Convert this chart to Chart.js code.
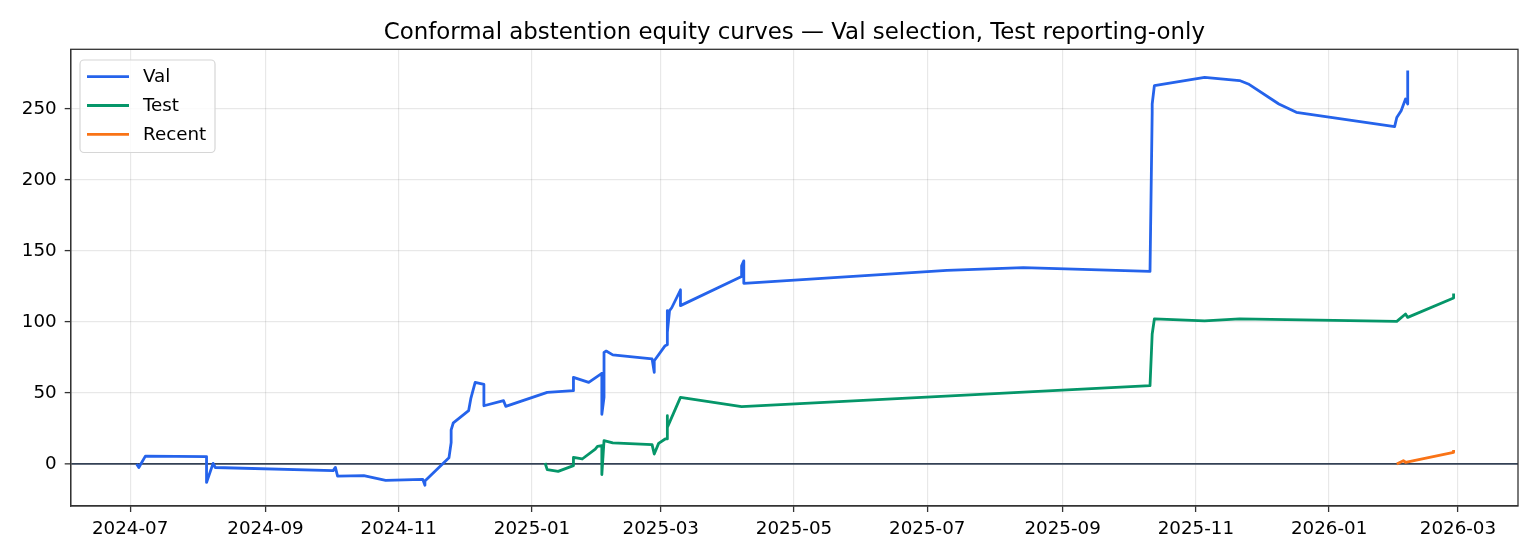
<!DOCTYPE html>
<html>
<head>
<meta charset="utf-8">
<script src="https://cdn.jsdelivr.net/npm/chart.js@4.4.1/dist/chart.umd.min.js"></script>
<style>
  html, body { margin: 0; padding: 0; background: #fff; }
  #wrap { width: 1540px; height: 560px; }
</style>
</head>
<body>
<div id="wrap"><canvas id="equityChart" width="1540" height="560"></canvas></div>
<script>
// values
const valDates = ['2024-07-04','2024-07-05','2024-07-08','2024-08-05','2024-08-05','2024-08-08','2024-08-09',
    '2024-10-02','2024-10-03','2024-10-04','2024-10-16','2024-10-26','2024-11-12','2024-11-13','2024-11-13',
    '2024-11-24','2024-11-25','2024-11-25','2024-11-26','2024-12-03','2024-12-04','2024-12-06','2024-12-10','2024-12-10',
    '2024-12-19','2024-12-20','2025-01-08','2025-01-20','2025-01-20','2025-01-27','2025-02-02','2025-02-02','2025-02-03',
    '2025-02-03','2025-02-04','2025-02-07','2025-02-25','2025-02-26','2025-02-26','2025-03-03','2025-03-04','2025-03-04',
    '2025-03-04','2025-03-05','2025-03-06','2025-03-10','2025-03-10','2025-04-07','2025-04-07','2025-04-08','2025-04-08',
    '2025-07-10','2025-08-14','2025-10-11','2025-10-12','2025-10-12','2025-10-13','2025-11-05','2025-11-21','2025-11-25',
    '2025-12-09','2025-12-17','2026-01-31','2026-02-01','2026-02-03','2026-02-05','2026-02-06','2026-02-06'];
const valValues = [0, -2.5, 5.5, 5.2, -13, 0.4, -2.5,
    -4.7, -2.4, -8.5, -8.2, -11.5, -10.8, -15, -12,
    4.3, 15, 24, 29, 37.5, 46, 57.5, 56, 41,
    44.6, 40.6, 50.4, 51.6, 61, 57.5, 63.8, 35, 47,
    78.6, 79.5, 76.8, 74, 64.5, 72.7, 83.3, 84, 108,
    92.7, 108, 110, 122.5, 111.5, 132, 139.6, 143, 127.2,
    136.3, 138.2, 135.6, 247.6, 253.5, 266.4, 272.3, 270, 267.6,
    253.5, 247.6, 237.5, 244, 248.8, 257, 253.5, 277];

const testDates = ['2025-01-07','2025-01-08','2025-01-13','2025-01-20','2025-01-20','2025-01-24','2025-01-30',
    '2025-01-31','2025-02-02','2025-02-02','2025-02-03','2025-02-07','2025-02-25','2025-02-26','2025-02-28',
    '2025-03-03','2025-03-04','2025-03-04','2025-03-04','2025-03-10','2025-04-07','2025-10-11','2025-10-12',
    '2025-10-13','2025-11-05','2025-11-21','2026-02-01','2026-02-05','2026-02-06','2026-02-27','2026-02-27'];
const testValues = [0.7, -4, -5.2, -1.2, 4.6, 3.5, 10.5,
    12.4, 12.9, -7.5, 16.4, 14.8, 13.6, 7, 14.5,
    17.6, 17.6, 34, 25.8, 46.9, 40.4, 55.1, 91.5,
    102.1, 100.8, 102.1, 100.4, 105.6, 103.2, 116.9, 120.1];

const recentDates = ['2026-02-01','2026-02-04','2026-02-05','2026-02-27','2026-02-27'];
const recentValues = [0, 2.3, 1.2, 8.2, 9.9];

const xTickLabels = ['2024-07','2024-09','2024-11','2025-01','2025-03','2025-05',
    '2025-07','2025-09','2025-11','2026-01','2026-03'];
const yTickValues = [0, 50, 100, 150, 200, 250];

const seriesNames = ['Val', 'Test', 'Recent'];
const seriesColors = ['#2563eb', '#059669', '#f97316'];

const FONT = 'DejaVu Sans';
const TITLE = 'Conformal abstention equity curves \u2014 Val selection, Test reporting-only';
const origin = Date.parse('2024-07-01');

function dayNum(d) {
    return (Date.parse(d) - origin) / 864e5;
}

function toPoints(dates, values) {
    return dates.map((d, i) => ({x: dayNum(d), y: values[i]}));
}

const xTicks = xTickLabels.map(l => dayNum(l + '-01'));

const framePlugin = {
    id: 'frame',
    afterDraw(chart) {
        const ctx = chart.ctx;
        const a = chart.chartArea;
        ctx.save();
        // axes box
        ctx.strokeStyle = '#333';
        ctx.lineWidth = 1.3;
        ctx.strokeRect(a.left, a.top, a.right - a.left, a.bottom - a.top);

        // title
        ctx.fillStyle = '#000';
        ctx.font = '22.9px "' + FONT + '"';
        ctx.textAlign = 'center';
        ctx.textBaseline = 'alphabetic';
        ctx.fillText(TITLE, (a.left + a.right) / 2, 39.3);

        // legend box
        const bx = 80, by = 60, bw = 135, bh = 92.5, r = 4;
        ctx.beginPath();
        ctx.moveTo(bx + r, by);
        ctx.arcTo(bx + bw, by, bx + bw, by + bh, r);
        ctx.arcTo(bx + bw, by + bh, bx, by + bh, r);
        ctx.arcTo(bx, by + bh, bx, by, r);
        ctx.arcTo(bx, by, bx + bw, by, r);
        ctx.closePath();
        ctx.fillStyle = 'rgba(255,255,255,0.8)';
        ctx.fill();
        ctx.strokeStyle = '#d6d6d6';
        ctx.lineWidth = 1.2;
        ctx.stroke();

        ctx.font = '18.3px "' + FONT + '"';
        ctx.textAlign = 'left';
        ctx.textBaseline = 'middle';
        seriesNames.forEach((name, i) => {
            const y = 76.7 + i * 28.8;
            ctx.strokeStyle = seriesColors[i];
            ctx.lineWidth = 2.8;
            ctx.beginPath();
            ctx.moveTo(87, y);
            ctx.lineTo(129, y);
            ctx.stroke();
            ctx.fillStyle = '#000';
            ctx.fillText(name, 143, y + 1);
        });
        ctx.restore();
    }
};

const allDates = [valDates, testDates, recentDates];
const allValues = [valValues, testValues, recentValues];

new Chart(document.getElementById('equityChart'), {
    type: 'line',
    data: {
        datasets: seriesNames.map((name, i) => ({
            label: name,
            data: toPoints(allDates[i], allValues[i]),
            borderColor: seriesColors[i],
            backgroundColor: seriesColors[i],
            borderWidth: 2.8,
            borderJoinStyle: 'round',
            pointRadius: 0,
            tension: 0,
            fill: false,
            order: seriesNames.length - i
        }))
    },
    options: {
        responsive: false,
        animation: false,
        devicePixelRatio: 1,
        layout: { padding: { top: 49.3, right: 22, left: 0, bottom: 0 } },
        plugins: {
            legend: { display: false },
            title: { display: false },
            tooltip: { enabled: false }
        },
        scales: {
            x: {
                type: 'linear',
                min: -27.2,
                max: 635.5,
                afterFit: scale => { scale.height = 54; },
                afterBuildTicks: scale => { scale.ticks = xTicks.map(v => ({value: v})); },
                ticks: {
                    autoSkip: false,
                    maxRotation: 0,
                    padding: 6,
                    color: '#000',
                    font: { family: FONT, size: 18.3 },
                    callback: v => xTickLabels[xTicks.indexOf(v)]
                },
                grid: {
                    color: 'rgba(0,0,0,0.09)',
                    lineWidth: 1.2,
                    tickLength: 6,
                    tickColor: '#333',
                    tickWidth: 1.3
                },
                border: { display: true, color: '#333', width: 1.3 }
            },
            y: {
                type: 'linear',
                min: -29.6,
                max: 292,
                afterFit: scale => { scale.width = 70.7; },
                afterBuildTicks: scale => { scale.ticks = yTickValues.map(v => ({value: v})); },
                ticks: {
                    padding: 8,
                    color: '#000',
                    font: { family: FONT, size: 18.3 },
                    callback: v => String(v)
                },
                grid: {
                    color: c => c.tick && c.tick.value === 0 ? '#334155' : 'rgba(0,0,0,0.09)',
                    lineWidth: c => c.tick && c.tick.value === 0 ? 1.7 : 1.2,
                    tickLength: 6,
                    tickColor: '#333',
                    tickWidth: 1.3
                },
                border: { display: true, color: '#333', width: 1.3 }
            }
        }
    },
    plugins: [framePlugin]
});
</script>
</body>
</html>
